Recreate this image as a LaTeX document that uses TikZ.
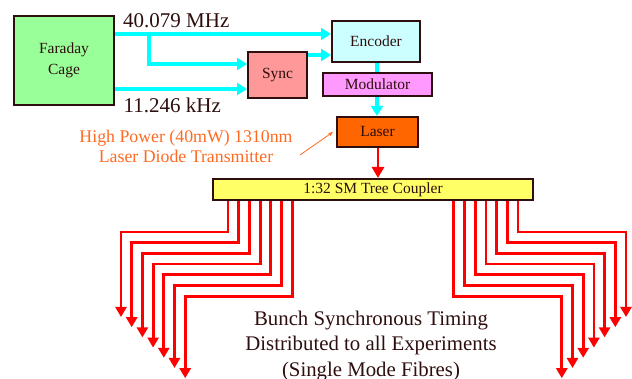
\documentclass[tikz,border=0pt]{standalone}
\usepackage{fontspec}
\setmainfont{Liberation Serif}
\usetikzlibrary{arrows.meta}
\definecolor{ink}{HTML}{2E0E0E}
\definecolor{cy}{HTML}{00FFFF}
\definecolor{fgreen}{HTML}{99FF99}
\definecolor{fenc}{HTML}{CCFFFF}
\definecolor{fsync}{HTML}{FF9999}
\definecolor{fmod}{HTML}{FF99FF}
\definecolor{flaser}{HTML}{FF6600}
\definecolor{fcoup}{HTML}{FFFF66}
\definecolor{orng}{HTML}{FF6A22}
\tikzset{
  box/.style={draw=ink, line width=2pt, text=ink, inner sep=0pt, align=center, font=\fontsize{15.5}{19}\selectfont},
  cyline/.style={draw=cy, line width=3.2pt},
  cyarrow/.style={cyline, -{Triangle[length=10pt,width=12pt]}},
  fibre/.style={draw=red, line width=2.8pt, line join=miter, -{Triangle[length=10pt,width=11pt]}},
  freq/.style={text=ink, font=\fontsize{21}{25}\selectfont, inner sep=0pt, anchor=base west},
}
\begin{document}
\begin{tikzpicture}[x=1pt,y=-1pt]
\useasboundingbox (0,0) rectangle (632,379);
% boxes
\node[box, fill=fgreen, minimum width=100pt, minimum height=89pt] (faraday) at (64,60.5) {Faraday\\[2pt]Cage};
\node[box, fill=fenc, minimum width=88pt, minimum height=41pt] (encoder) at (376,41.5) {Encoder};
\node[box, fill=fsync, minimum width=59pt, minimum height=46pt] (sync) at (277.5,75) {Sync};
\node[box, fill=fmod, minimum width=109pt, minimum height=23pt] (modulator) at (377.5,84.5) {Modulator};
\node[box, fill=flaser, minimum width=81pt, minimum height=30pt] (laser) at (377.5,132) {Laser};
\node[box, fill=fcoup, minimum width=320pt, minimum height=21pt] (coupler) at (373,189.5) {1:32 SM Tree Coupler};
% frequency labels
\node[freq] (mhz) at (123,28) {40.079 MHz};
\node[freq] (khz) at (123.5,112.3) {11.246 kHz};
% cyan connections
\coordinate (br) at (149,34);
\draw[cyarrow] (faraday.east |- br) -- (encoder.west |- br);
\draw[cyarrow] (br) -- (149,64) -- (sync.west |- 0,64);
\draw[cyarrow] (faraday.east |- 0,89) -- (sync.west |- 0,89);
\draw[cyarrow] (sync.east |- 0,55) -- (encoder.west |- 0,55);
\draw[cyline] (encoder.south -| 377,0) -- (modulator.north -| 377,0);
\draw[cyarrow] (modulator.south -| 377,0) -- (laser.north -| 377,0);
% red laser to coupler
\draw[fibre, -{Triangle[length=11pt,width=12pt]}] (laser.south -| 378,0) -- (coupler.north -| 378,0);
% orange annotation (anchor base = baseline of last line)
\node[text=orng, font=\fontsize{17.8}{20}\selectfont, align=center, inner sep=0pt, anchor=base] (note) at (186,163) {High Power (40mW) 1310nm\\Laser Diode Transmitter};
\coordinate (notetip) at (333,132);
\draw[orng, line width=0.8pt, -{Stealth[length=5pt,width=4pt]}] (300,155) -- (notetip);
% fibres left
\foreach \i in {0,...,6} {
  \pgfmathsetmacro{\xt}{228+10.7*\i}
  \pgfmathsetmacro{\yh}{232+10.7*\i}
  \pgfmathsetmacro{\xl}{121+10.7*\i}
  \pgfmathsetmacro{\yt}{317+10.2*\i}
  \coordinate (lt\i) at (\xl,\yt);
  \draw[fibre] (coupler.south -| \xt,0) -- (\xt,\yh) -- (\xl,\yh) -- (lt\i);
}
% fibres right
\foreach \j in {0,...,6} {
  \pgfmathsetmacro{\xt}{518-10.7*\j}
  \pgfmathsetmacro{\yh}{232+10.7*\j}
  \pgfmathsetmacro{\xr}{626-10.7*\j}
  \pgfmathsetmacro{\yt}{317+10.2*\j}
  \coordinate (rt\j) at (\xr,\yt);
  \draw[fibre] (coupler.south -| \xt,0) -- (\xt,\yh) -- (\xr,\yh) -- (rt\j);
}
% bottom text (anchor base = baseline of last line)
\node[text=ink, font=\fontsize{20.8}{25.5}\selectfont, align=center, inner sep=0pt, anchor=base] (caption) at (371,376) {Bunch Synchronous Timing\\Distributed to all Experiments\\(Single Mode Fibres)};
\end{tikzpicture}
\end{document}
